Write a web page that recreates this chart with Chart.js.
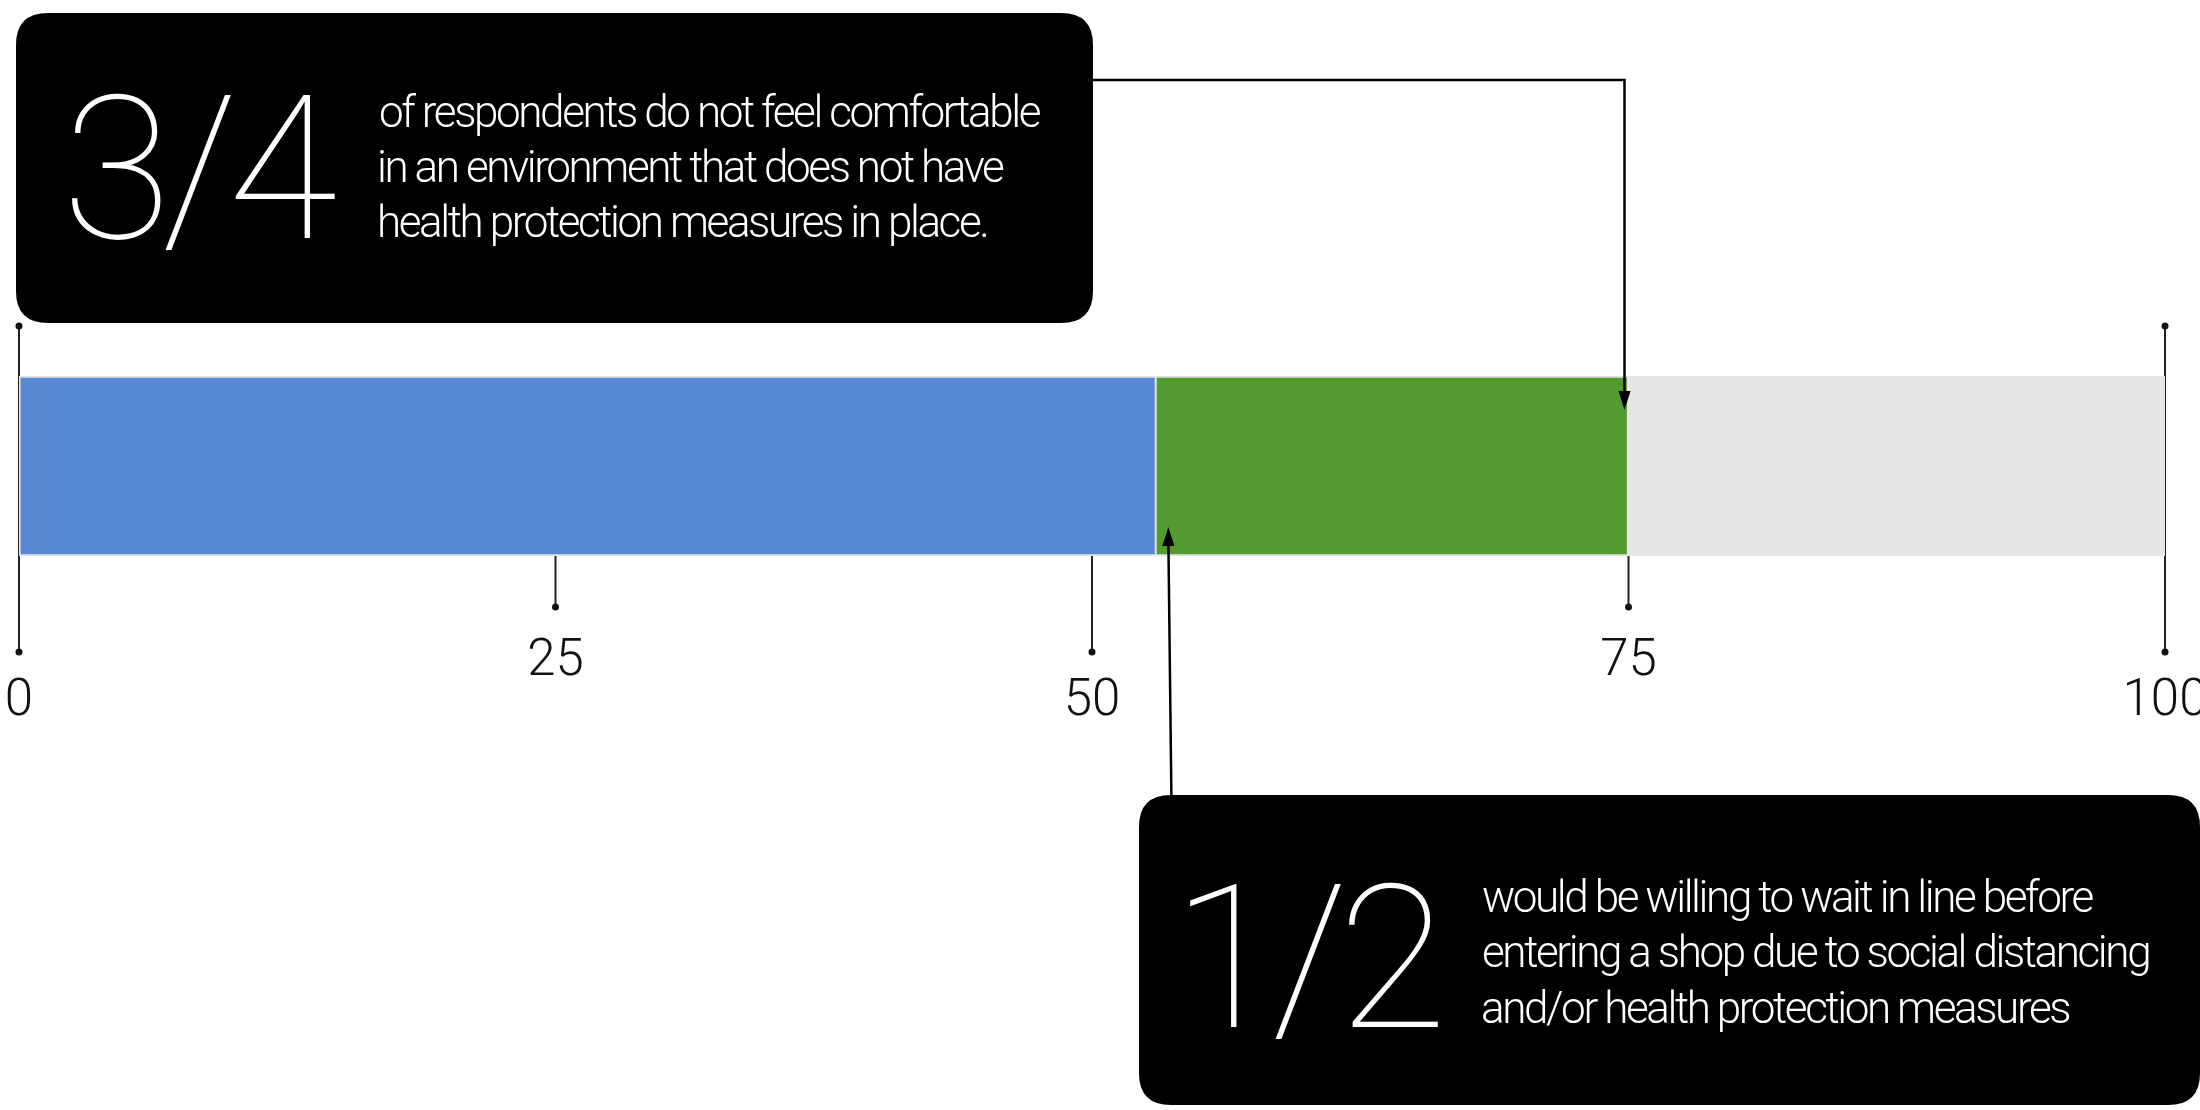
<!DOCTYPE html>
<html>
<head>
<meta charset="utf-8">
<title>Shopping comfort survey</title>
<script src="https://cdn.jsdelivr.net/npm/chart.js@4.4.1/dist/chart.umd.min.js"></script>
<style>
html, body { margin: 0; padding: 0; background: #fff; }
canvas { display: block; }
</style>
</head>
<body>
<canvas id="surveyChart" width="2200" height="1110"></canvas>
<script>
// survey shares, stacked left to right on one bar (percent of respondents)
const categories = ["Respondents"];
const segmentNames = ["Would wait in line", "Not comfortable without measures", "Rest"];
const segmentValues = [53, 22, 25];
const segmentColors = ["#5988d4", "#539b30", "#e6e6e6"];
const tickValues = [0, 25, 50, 75, 100];

const topFigure = "3/4";
const topLines = [
  "of respondents do not feel comfortable",
  "in an environment that does not have",
  "health protection measures in place."
];
const bottomFigure = "1/2";
const bottomLines = [
  "would be willing to wait in line before",
  "entering a shop due to social distancing",
  "and/or health protection measures"
];

const FONT = "Roboto, 'Noto Sans', sans-serif";

function dot(ctx, x, y) {
  ctx.beginPath();
  ctx.arc(x, y, 3.5, 0, Math.PI * 2);
  ctx.fill();
}

// axis drawn by hand: ticks of alternating length ending in a dot
const tickPlugin = {
  id: "dotTicks",
  beforeDatasetsDraw(chart) {
    const ctx = chart.ctx;
    const xs = chart.scales.x;
    const area = chart.chartArea;
    ctx.save();
    ctx.strokeStyle = "#222";
    ctx.fillStyle = "#111";
    ctx.lineWidth = 2;
    ctx.font = "300 51px " + FONT;
    ctx.textAlign = "center";
    ctx.textBaseline = "alphabetic";
    tickValues.forEach((v, i) => {
      const x = xs.getPixelForValue(v);
      const edge = (i === 0 || i === tickValues.length - 1);
      const long = i % 2 === 0;
      const y0 = edge ? area.top - 50 : area.bottom;
      const y1 = area.bottom + (long ? 96 : 51);
      ctx.beginPath();
      ctx.moveTo(x, y0);
      ctx.lineTo(x, y1);
      ctx.stroke();
      if (edge) dot(ctx, x, y0);
      dot(ctx, x, y1);
      ctx.fillText(String(v), x, y1 + (long ? 63 : 68));
    });
    ctx.restore();
  }
};

function roundBox(ctx, x, y, w, h, r) {
  ctx.beginPath();
  ctx.moveTo(x + r, y);
  ctx.lineTo(x + w - r, y);
  ctx.quadraticCurveTo(x + w, y, x + w, y + r);
  ctx.lineTo(x + w, y + h - r);
  ctx.quadraticCurveTo(x + w, y + h, x + w - r, y + h);
  ctx.lineTo(x + r, y + h);
  ctx.quadraticCurveTo(x, y + h, x, y + h - r);
  ctx.lineTo(x, y + r);
  ctx.quadraticCurveTo(x, y, x + r, y);
  ctx.closePath();
  ctx.fill();
}

// text placed by the left edge of its ink
function inkText(ctx, txt, left, baseline) {
  const m = ctx.measureText(txt);
  ctx.fillText(txt, left + m.actualBoundingBoxLeft, baseline);
}

function arrowHead(ctx, x, y, dir) {
  ctx.beginPath();
  ctx.moveTo(x, y);
  ctx.lineTo(x - 6, y - 19 * dir);
  ctx.lineTo(x + 6, y - 19 * dir);
  ctx.closePath();
  ctx.fill();
}

function callout(ctx, box, figure, lines, figLeft, figBase, textLeft, baselines) {
  ctx.fillStyle = "#000";
  roundBox(ctx, box.x, box.y, box.w, box.h, 32);
  ctx.fillStyle = "#fff";
  ctx.textAlign = "left";
  ctx.textBaseline = "alphabetic";
  ctx.font = "100 200px " + FONT;
  ctx.letterSpacing = "-10px";
  inkText(ctx, figure, figLeft, figBase);
  ctx.font = "300 44px " + FONT;
  ctx.letterSpacing = "-2.4px";
  lines.forEach((ln, i) => inkText(ctx, ln, textLeft, baselines[i]));
  ctx.letterSpacing = "0px";
}

const calloutPlugin = {
  id: "callouts",
  afterDraw(chart) {
    const ctx = chart.ctx;
    const xs = chart.scales.x;
    const area = chart.chartArea;
    const greenEnd = xs.getPixelForValue(segmentValues[0] + segmentValues[1]);
    const blueEnd = xs.getPixelForValue(segmentValues[0]);
    ctx.save();

    const topBox = { x: 16, y: 13, w: 1077, h: 310 };
    const botBox = { x: 1139, y: 795, w: 1061, h: 310 };

    // connectors
    ctx.strokeStyle = "#000";
    ctx.fillStyle = "#000";
    ctx.lineWidth = 2.5;
    const ax = greenEnd - 4;
    ctx.beginPath();
    ctx.moveTo(topBox.x + topBox.w, 80);
    ctx.lineTo(ax, 80);
    ctx.lineTo(ax, area.top + 20);
    ctx.stroke();
    arrowHead(ctx, ax, area.top + 34, 1);

    const bx = blueEnd + 12;
    ctx.beginPath();
    ctx.moveTo(bx + 3, botBox.y);
    ctx.lineTo(bx, area.bottom - 15);
    ctx.stroke();
    arrowHead(ctx, bx, area.bottom - 29, -1);

    callout(ctx, topBox, topFigure, topLines, 72, 238, 380, [127, 182, 237]);
    callout(ctx, botBox, bottomFigure, bottomLines, 1190, 1027, 1483, [912, 967, 1023]);
    ctx.restore();
  }
};

new Chart(document.getElementById("surveyChart"), {
  type: "bar",
  data: {
    labels: categories,
    datasets: segmentNames.map((name, i) => ({
      label: name,
      data: [segmentValues[i]],
      backgroundColor: segmentColors[i],
      borderColor: i === 2 ? "#e6e6e6" : "#e2e2e2",
      borderWidth: 2,
      borderSkipped: i === 0 ? false : "start",
      barPercentage: 1,
      categoryPercentage: 1
    }))
  },
  options: {
    indexAxis: "y",
    responsive: false,
    animation: false,
    devicePixelRatio: 1,
    layout: { padding: { left: 19, right: 35, top: 376, bottom: 554 } },
    scales: {
      x: { stacked: true, min: 0, max: 100, display: false },
      y: { stacked: true, display: false }
    },
    plugins: {
      legend: { display: false },
      tooltip: { enabled: false }
    }
  },
  plugins: [tickPlugin, calloutPlugin]
});
</script>
</body>
</html>
